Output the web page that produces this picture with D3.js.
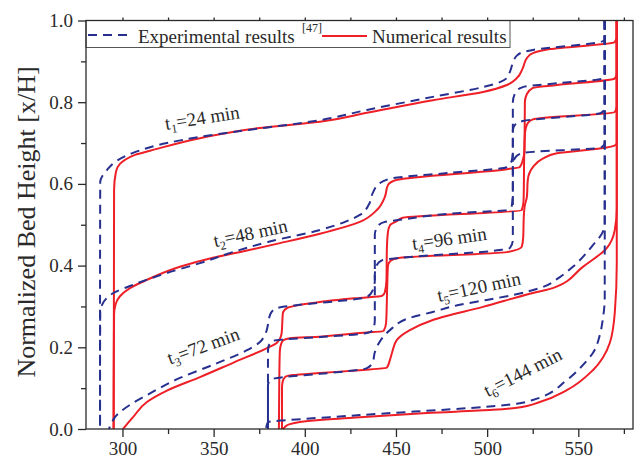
<!DOCTYPE html>
<html><head><meta charset="utf-8">
<script src="https://cdn.jsdelivr.net/npm/d3@7"></script>
<style>
body{margin:0;background:#fff}
svg{display:block}
text{font-family:"Liberation Serif","Times New Roman",serif;fill:#2a2a2a}
</style>
</head><body>
<svg id="chart" width="635" height="459"></svg>
<script>
// ---------- data (temperature [x], normalized bed height [y]) ----------
const xTicks = [300, 350, 400, 450, 500, 550];
const xMinorTicks = [325, 375, 425, 475, 525, 575];
const yTicks = [0, 0.2, 0.4, 0.6, 0.8, 1.0];
const yMinorTicks = [0.1, 0.3, 0.5, 0.7, 0.9];
const legendLabels = ["Experimental results", "[47]", "Numerical results"];
const yLabel = "Normalized Bed Height [x/H]";

// Numerical results (red)
const numT1 = [[295.1,0],[295.3,0.3],[295.4,0.585],[296.4,0.629],[298.6,0.649],[301.4,0.659],[306.9,0.671],[315.1,0.681],[342.5,0.712],[375.4,0.737],[408.3,0.752],[434.1,0.774],[470.2,0.805],[497.7,0.825],[510.8,0.842],[516.3,0.859],[519.6,0.884],[521.8,0.908],[525.1,0.920],[534.4,0.930],[570.0,0.947],[571.1,0.96],[571.1,1.0]];
const numT2 = [[295.2,0],[295.3,0.2],[295.4,0.28],[296.2,0.305],[298.6,0.325],[304.1,0.345],[313.4,0.365],[331.5,0.397],[349.6,0.419],[368.3,0.437],[386.4,0.455],[408.3,0.478],[430.2,0.507],[439.5,0.536],[443.9,0.568],[445.6,0.597],[450.5,0.610],[510.8,0.636],[517.9,0.641],[519.6,0.659],[520.5,0.683],[520.7,0.80],[521.8,0.82],[525.1,0.835],[538.2,0.842],[570.0,0.858],[571.1,0.87],[571.1,1.0]];
const numT3 = [[300.3,0],[302.5,0.012],[305.8,0.029],[313.4,0.066],[324.4,0.094],[342.5,0.127],[360.6,0.162],[379.2,0.198],[384.7,0.211],[387.3,0.235],[388.0,0.284],[390.2,0.296],[408.3,0.311],[430.2,0.321],[442.3,0.326],[443.9,0.335],[444.8,0.365],[445.0,0.438],[445.6,0.482],[446.7,0.499],[450.5,0.509],[453.8,0.517],[519.0,0.536],[520.0,0.56],[520.4,0.683],[520.7,0.720],[521.2,0.736],[522.3,0.749],[525.1,0.758],[570.0,0.776],[571.1,0.79],[571.1,1.0]];
const numT4 = [[385.8,0],[386.0,0.12],[386.3,0.19],[387.2,0.211],[388.6,0.218],[391.8,0.222],[408.3,0.226],[430.2,0.235],[443.2,0.240],[444.6,0.26],[445.2,0.35],[445.6,0.40],[446.7,0.410],[448.3,0.415],[452.2,0.419],[510.8,0.433],[519.0,0.446],[519.8,0.47],[520.1,0.52],[520.7,0.548],[521.8,0.568],[522.3,0.61],[525.1,0.641],[530.5,0.662],[538.2,0.675],[565.6,0.689],[570.0,0.694],[571.1,0.70],[571.1,1.0]];
const numT5 = [[387.5,0],[387.5,0.1],[387.8,0.115],[389.1,0.127],[393.5,0.132],[408.3,0.137],[430.2,0.144],[445.0,0.150],[446.4,0.165],[447.8,0.186],[450.5,0.218],[457.6,0.242],[470.2,0.267],[497.7,0.299],[525.1,0.333],[536.0,0.345],[552.5,0.397],[565.6,0.443],[570.0,0.487],[571.1,0.54],[571.1,1.0]];
const numT6 = [[388.0,0],[389.1,0.005],[391.8,0.012],[397.3,0.017],[408.3,0.022],[430.2,0.029],[467.0,0.039],[503.1,0.047],[516.3,0.052],[528.9,0.066],[543.7,0.095],[558.0,0.144],[567.3,0.211],[570.0,0.284],[571.1,0.406],[571.1,1.0]];

// Experimental results [47] (blue dashed)
const expT1 = [[287.7,0],[287.7,0.3],[287.8,0.605],[289.3,0.622],[291.5,0.634],[297.0,0.657],[305.8,0.676],[324.4,0.700],[342.5,0.715],[360.6,0.727],[408.3,0.756],[434.1,0.781],[470.2,0.813],[497.7,0.837],[507.0,0.849],[510.8,0.859],[512.5,0.874],[514.1,0.896],[516.3,0.914],[520.7,0.924],[525.1,0.928],[561.8,0.947],[564.5,0.952],[564.5,1.0]];
const expT2 = [[287.7,0],[287.7,0.15],[287.8,0.285],[288.8,0.304],[291.5,0.321],[295.9,0.335],[304.1,0.350],[324.4,0.382],[342.5,0.406],[360.6,0.433],[379.8,0.458],[408.3,0.487],[422.0,0.507],[430.2,0.524],[435.2,0.55],[437.3,0.578],[441.2,0.602],[448.3,0.614],[479.6,0.627],[510.8,0.641],[513.6,0.659],[514.1,0.683],[514.1,0.80],[515.7,0.825],[519.6,0.837],[539.9,0.847],[562.5,0.857],[564.5,0.865],[564.5,1.0]];
const expT3 = [[292.6,0],[294.3,0.017],[295.9,0.029],[304.1,0.059],[313.4,0.083],[331.5,0.125],[349.6,0.157],[368.3,0.193],[375.4,0.213],[378.1,0.230],[379.8,0.255],[380.9,0.279],[383.6,0.294],[388.0,0.299],[397.3,0.304],[434.1,0.323],[437.3,0.340],[438.4,0.365],[438.4,0.475],[440.1,0.497],[443.9,0.507],[452.2,0.512],[485.0,0.529],[510.8,0.536],[513.6,0.548],[514.1,0.585],[514.1,0.732],[515.7,0.747],[519.6,0.754],[562.5,0.774],[564.5,0.785],[564.5,1.0]];
const expT4 = [[379.8,0],[379.8,0.193],[380.9,0.211],[383.6,0.217],[388.0,0.219],[408.3,0.225],[434.1,0.235],[437.3,0.242],[438.4,0.267],[438.4,0.377],[439.5,0.401],[442.8,0.414],[452.2,0.419],[507.0,0.438],[512.5,0.443],[514.1,0.463],[514.1,0.646],[515.7,0.666],[519.6,0.676],[562.5,0.689],[564.5,0.70],[564.5,1.0]];
const expT5 = [[379.8,0],[379.8,0.108],[382.0,0.122],[388.0,0.127],[408.3,0.135],[434.1,0.149],[437.3,0.164],[438.4,0.188],[440.1,0.206],[446.7,0.242],[457.6,0.272],[469.7,0.286],[485.0,0.304],[499.8,0.316],[514.1,0.328],[528.9,0.345],[539.9,0.372],[547.0,0.397],[558.0,0.450],[563.4,0.482],[564.5,0.505],[564.5,1.0]];
const expT6 = [[378.7,0],[379.8,0.017],[383.6,0.0195],[388.0,0.021],[430.2,0.034],[516.3,0.062],[525.1,0.071],[543.7,0.120],[553.6,0.162],[558.0,0.186],[561.8,0.230],[563.4,0.267],[564.5,0.323],[564.5,1.0]];

const numSeries = [numT1, numT2, numT3, numT4, numT5, numT6];
const expSeries = [expT1, expT2, expT3, expT4, expT5, expT6];

// curve labels: subscript, rest, anchor (data coords), rotation
const curveLabels = [
  {sub:"1", rest:"=24 min",  T:323.9, h:0.732, rot:-9},
  {sub:"2", rest:"=48 min",  T:350.7, h:0.445, rot:-12},
  {sub:"3", rest:"=72 min",  T:326.1, h:0.157, rot:-20},
  {sub:"4", rest:"=96 min",  T:459.3, h:0.438, rot:-8},
  {sub:"5", rest:"=120 min", T:473.5, h:0.311, rot:-12},
  {sub:"6", rest:"=144 min", T:500.4, h:0.078, rot:-27}
];

// ---------- drawing ----------
const L = 86, R = 633, T = 20.5, B = 429;
const RED = "#ee1f26", BLUE = "#27308f", AX = "#2a2a2a";
const svg = d3.select("#chart");

const x = d3.scaleLinear().domain([280, 580]).range([L, R]);
const y = d3.scaleLinear().domain([0, 1]).range([B, T]);

const line = d3.line().x(d => x(d[0])).y(d => y(d[1])).curve(d3.curveMonotoneY);

const plot = svg.append("g");
plot.selectAll("path.num").data(numSeries).join("path")
  .attr("class","num")
  .attr("d", d => line(d.slice().reverse()))
  .attr("fill","none").attr("stroke",RED).attr("stroke-width",2);
plot.selectAll("path.exp").data(expSeries).join("path")
  .attr("class","exp")
  .attr("d", d => line(d.slice().reverse()))
  .attr("fill","none").attr("stroke",BLUE).attr("stroke-width",2)
  .attr("stroke-dasharray","9,6");

curveLabels.forEach(c => {
  const t = svg.append("text")
    .attr("transform", `translate(${x(c.T)},${y(c.h)}) rotate(${c.rot})`)
    .attr("font-size", 19);
  t.append("tspan").text("t");
  t.append("tspan").attr("font-size",12).attr("dy",4).text(c.sub);
  t.append("tspan").attr("dy",-4).text(c.rest);
});

const gx = svg.append("g").attr("transform",`translate(0,${B})`)
  .call(d3.axisBottom(x).tickValues(xTicks).tickSize(8).tickSizeOuter(0).tickPadding(5).tickFormat(d3.format("d")));
const gxm = svg.append("g").attr("transform",`translate(0,${B})`)
  .call(d3.axisBottom(x).tickValues(xMinorTicks).tickSize(5).tickSizeOuter(0).tickFormat(""));
const gy = svg.append("g").attr("transform",`translate(${L},0)`)
  .call(d3.axisLeft(y).tickValues(yTicks).tickSize(8).tickSizeOuter(0).tickPadding(5).tickFormat(d3.format(".1f")));
const gym = svg.append("g").attr("transform",`translate(${L},0)`)
  .call(d3.axisLeft(y).tickValues(yMinorTicks).tickSize(5).tickSizeOuter(0).tickFormat(""));
const gt = svg.append("g").attr("transform",`translate(0,${T})`)
  .call(d3.axisTop(x).tickValues(xTicks.concat(xMinorTicks)).tickSize(3).tickSizeOuter(0).tickFormat(""));
[gx,gxm,gy,gym,gt].forEach(g => {
  g.select(".domain").remove();
  g.selectAll("line").attr("stroke",AX).attr("stroke-width",1.3);
  g.selectAll("text").attr("font-size",19).attr("font-family",'"Liberation Serif","Times New Roman",serif').attr("fill",AX);
});

const lg = svg.append("g");
lg.append("rect").attr("x",L).attr("y",T).attr("width",424).attr("height",27)
  .attr("fill","#fff").attr("stroke","#555").attr("stroke-width",1);
lg.append("line").attr("x1",88).attr("x2",133).attr("y1",35).attr("y2",35)
  .attr("stroke",BLUE).attr("stroke-width",2).attr("stroke-dasharray","9,6");
lg.append("text").attr("x",138).attr("y",43).attr("font-size",19).text(legendLabels[0]);
lg.append("text").attr("x",302).attr("y",32).attr("font-size",12).text(legendLabels[1]);
lg.append("line").attr("x1",322).attr("x2",367).attr("y1",36).attr("y2",36)
  .attr("stroke",RED).attr("stroke-width",2);
lg.append("text").attr("x",372).attr("y",43).attr("font-size",19).text(legendLabels[2]);

svg.append("rect").attr("x",L).attr("y",T).attr("width",R-L).attr("height",B-T)
  .attr("fill","none").attr("stroke",AX).attr("stroke-width",1.3);

svg.append("text").attr("transform",`translate(35,222) rotate(-90)`)
  .attr("text-anchor","middle").attr("font-size",26).text(yLabel);
</script>
</body></html>
